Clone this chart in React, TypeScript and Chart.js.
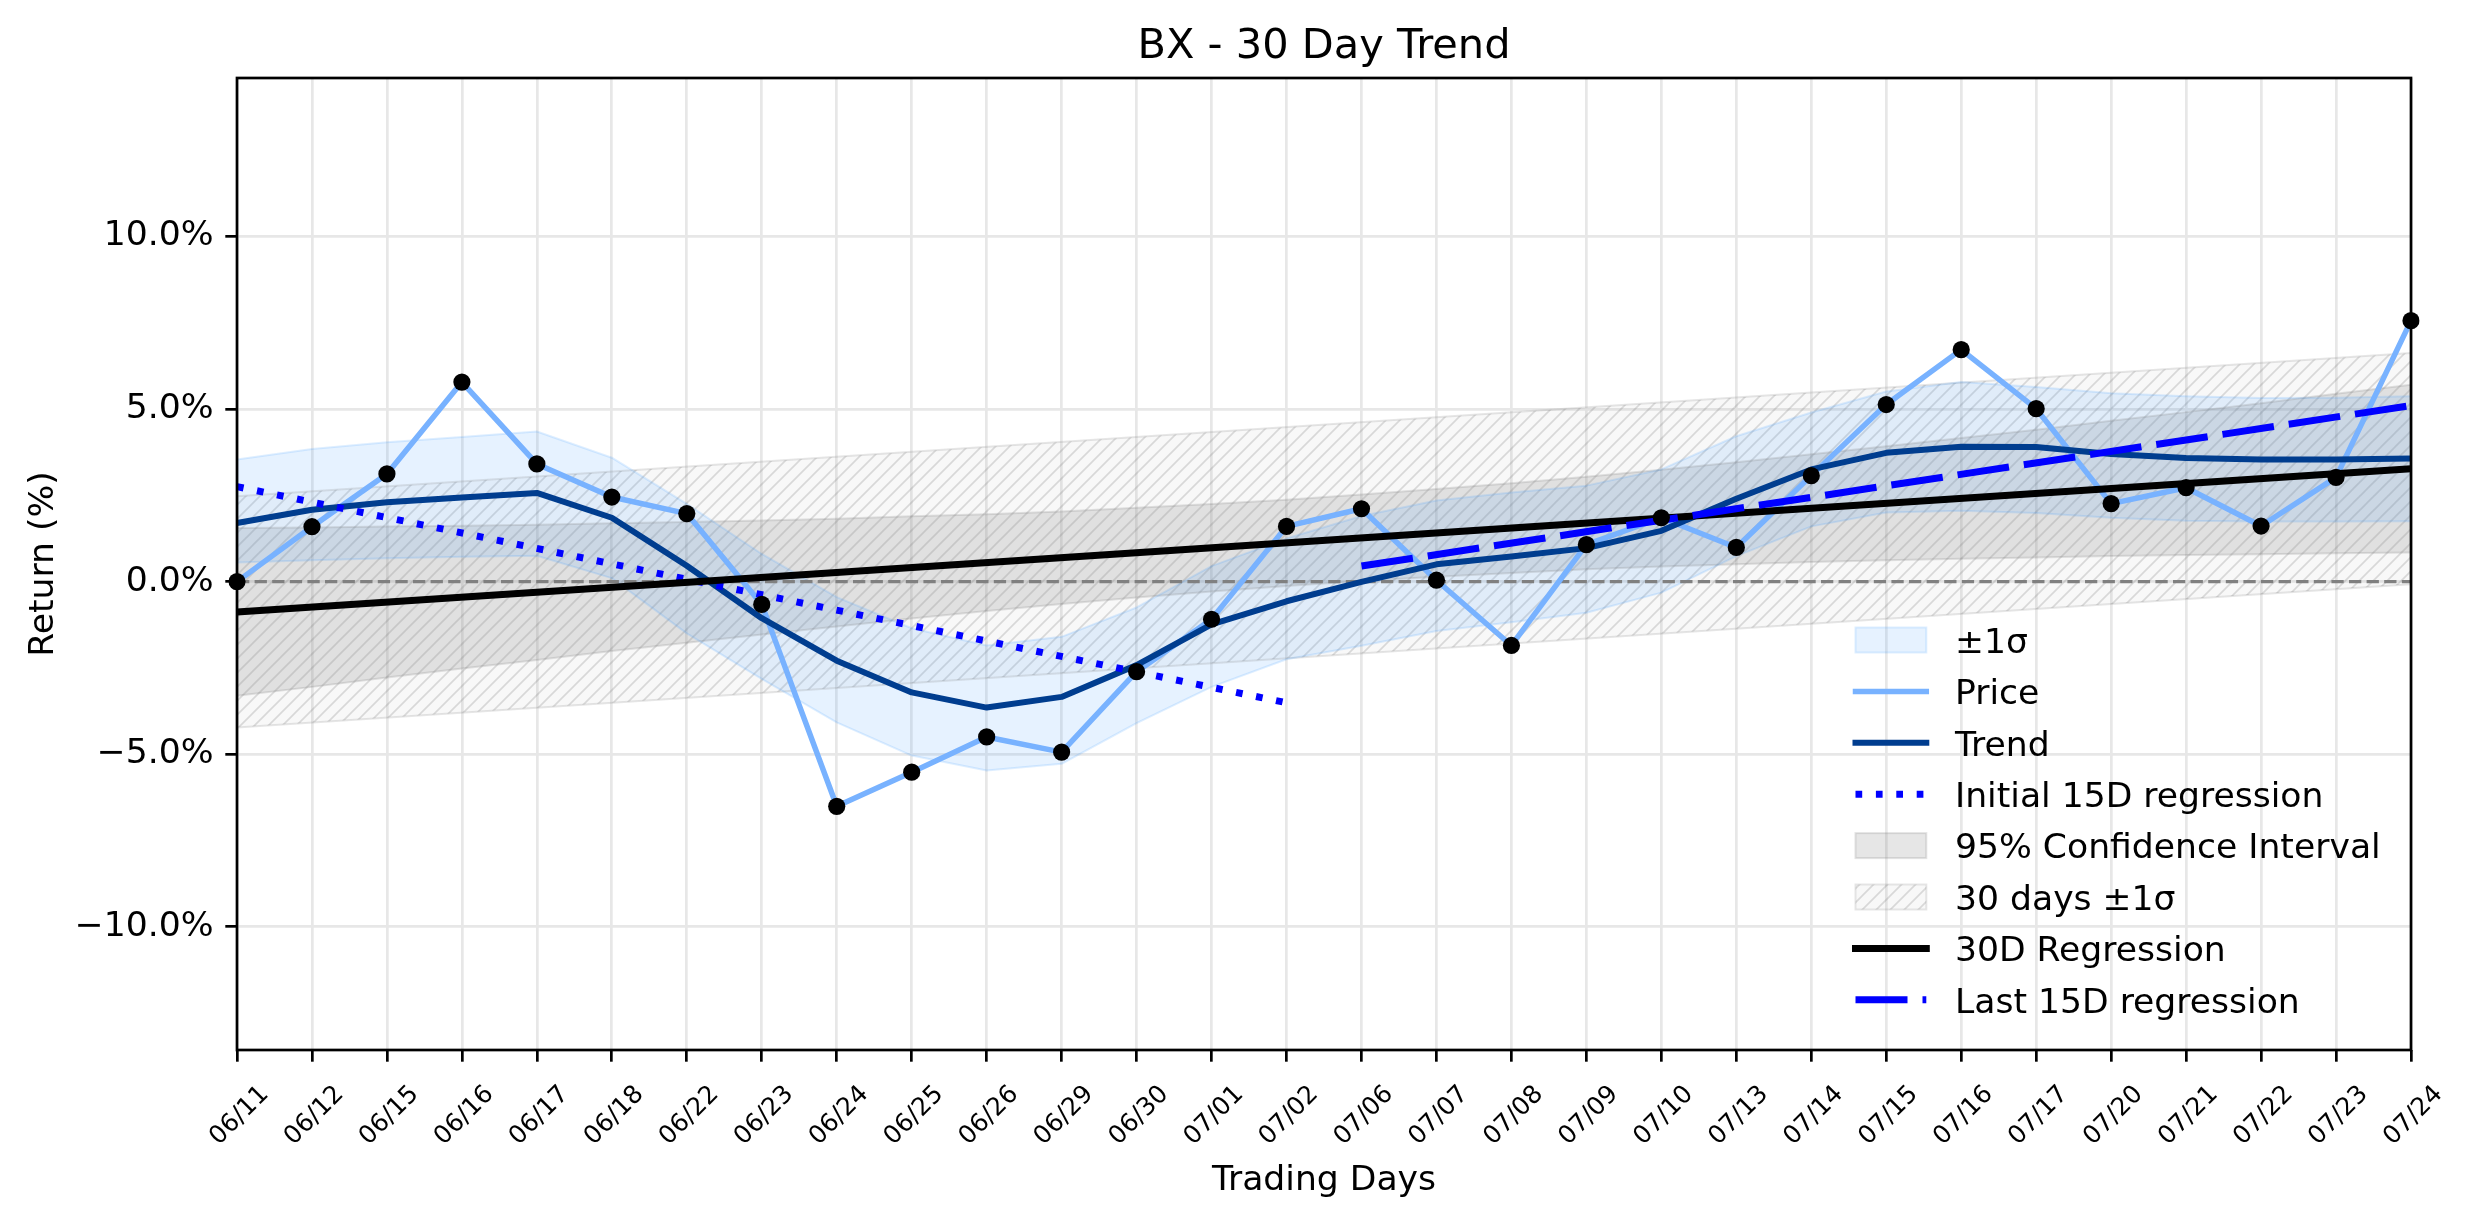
import React, { useEffect, useRef } from 'react';
import { Chart, registerables } from 'chart.js';

Chart.register(...registerables);

const FONT = '"DejaVu Sans", "Liberation Sans", sans-serif';

const TITLE = 'BX - 30 Day Trend';
const X_TITLE = 'Trading Days';
const Y_TITLE = 'Return (%)';

const DAYS = [
  '06/11', '06/12', '06/15', '06/16', '06/17', '06/18', '06/22', '06/23', '06/24', '06/25',
  '06/26', '06/29', '06/30', '07/01', '07/02', '07/06', '07/07', '07/08', '07/09', '07/10',
  '07/13', '07/14', '07/15', '07/16', '07/17', '07/20', '07/21', '07/22', '07/23', '07/24',
];

const PRICE = [
  0.0, 1.59, 3.12, 5.78, 3.41, 2.45, 1.97, -0.66, -6.51, -5.52,
  -4.5, -4.94, -2.61, -1.09, 1.6, 2.11, 0.04, -1.85, 1.07, 1.85,
  0.99, 3.07, 5.13, 6.72, 5.01, 2.26, 2.72, 1.61, 3.02, 7.56,
];

const TREND = [
  1.7, 2.08, 2.3, 2.44, 2.57, 1.85, 0.46, -1.06, -2.29, -3.21,
  -3.65, -3.34, -2.42, -1.24, -0.57, -0.01, 0.5, 0.73, 0.97, 1.47,
  2.4, 3.25, 3.73, 3.91, 3.9, 3.7, 3.58, 3.54, 3.54, 3.57,
];

const SIGMA_UPPER = [
  3.54, 3.84, 4.04, 4.19, 4.35, 3.59, 2.25, 0.8, -0.45, -1.35,
  -1.85, -1.6, -0.75, 0.45, 1.25, 1.9, 2.35, 2.58, 2.78, 3.25,
  4.21, 4.9, 5.51, 5.78, 5.64, 5.46, 5.37, 5.32, 5.33, 5.37,
];

const SIGMA_LOWER = [
  0.55, 0.62, 0.68, 0.72, 0.75, 0.1, -1.5, -2.82, -4.08, -5.04,
  -5.47, -5.28, -4.1, -3.05, -2.25, -1.86, -1.43, -1.18, -0.9, -0.32,
  0.74, 1.6, 2.0, 2.05, 1.99, 1.85, 1.76, 1.74, 1.74, 1.75,
];

const CI_UPPER = [
  1.55, 1.57, 1.6, 1.62, 1.65, 1.69, 1.73, 1.77, 1.82, 1.89,
  1.95, 2.03, 2.14, 2.25, 2.37, 2.52, 2.68, 2.85, 3.04, 3.24,
  3.46, 3.69, 3.92, 4.16, 4.4, 4.66, 4.91, 5.17, 5.44, 5.7,
];

const CI_LOWER = [
  -3.31, -3.05, -2.78, -2.52, -2.27, -2.01, -1.77, -1.53, -1.3, -1.07,
  -0.85, -0.65, -0.46, -0.29, -0.13, 0.02, 0.14, 0.25, 0.36, 0.44,
  0.5, 0.57, 0.62, 0.66, 0.7, 0.74, 0.77, 0.79, 0.82, 0.84,
];

// straight lines: values at their first and last day
const REG30 = [-0.88, 3.27];
const BAND30_UPPER = [2.47, 6.62];
const BAND30_LOWER = [-4.23, -0.08];
const INIT15 = [2.75, -3.51];
const LAST15 = [0.45, 5.1];
const ZERO = [0, 0];

const Y_TICKS = [-10, -5, 0, 5, 10];
const Y_MIN = -13.57;
const Y_MAX = 14.59;

const LEGEND_LABELS = [
  '±1σ', 'Price', 'Trend', 'Initial 15D regression', '95% Confidence Interval',
  '30 days ±1σ', '30D Regression', 'Last 15D regression',
];

const C_PRICE = '#78b2ff';
const C_TREND = '#003d8f';
const C_SIGMA = 'rgba(50,150,255,0.12)';
const C_SIGMA_EDGE = 'rgba(50,150,255,0.16)';
const C_CI = 'rgba(128,128,128,0.2)';
const C_CI_EDGE = 'rgba(128,128,128,0.22)';
const C_BAND_EDGE = 'rgba(128,128,128,0.2)';
const C_GRID = '#e7e7e7';

const W_PRICE = 5.5;
const W_TREND = 6;
const W_REG = 7;

function seg(a: number, b: number, vals: number[]) {
  return [
    { x: DAYS[a], y: vals[0] },
    { x: DAYS[b], y: vals[1] },
  ];
}

function makeHatch(): CanvasPattern | string {
  const s = 14;
  const c = document.createElement('canvas');
  c.width = s;
  c.height = s;
  const g = c.getContext('2d');
  if (!g) return 'rgba(128,128,128,0.07)';
  g.fillStyle = 'rgba(128,128,128,0.06)';
  g.fillRect(0, 0, s, s);
  g.strokeStyle = 'rgba(128,128,128,0.26)';
  g.lineWidth = 1.7;
  g.beginPath();
  g.moveTo(0, s);
  g.lineTo(s, 0);
  g.moveTo(-s / 2, s / 2);
  g.lineTo(s / 2, -s / 2);
  g.moveTo(s / 2, s * 1.5);
  g.lineTo(s * 1.5, s / 2);
  g.stroke();
  return g.createPattern(c, 'repeat') || 'rgba(128,128,128,0.07)';
}

function fmtPct(v: number) {
  const s = Math.abs(v).toFixed(1) + '%';
  return v < 0 ? '\u2212' + s : s;
}

export default function App() {
  const ref = useRef<HTMLCanvasElement>(null);

  useEffect(() => {
    const canvas = ref.current;
    if (!canvas) return;
    const hatch = makeHatch();

    // center the title over the axes (as in the reference)
    const titleOverAxes = {
      id: 'titleOverAxes',
      afterLayout(chart: any) {
        const t = chart.titleBlock;
        const a = chart.chartArea;
        if (t && a) {
          t.left = a.left;
          t.right = a.right;
          t.width = a.right - a.left;
        }
      },
    };

    const framePlugin = {
      id: 'frame',
      afterDatasetsDraw(chart: any) {
        const { ctx, chartArea: a } = chart;
        ctx.save();
        ctx.strokeStyle = '#000';
        ctx.lineWidth = 2.7;
        ctx.strokeRect(a.left, a.top, a.right - a.left, a.bottom - a.top);
        ctx.restore();
      },
    };

    const legendPlugin = {
      id: 'insideLegend',
      afterDraw(chart: any) {
        const ctx: CanvasRenderingContext2D = chart.ctx;
        const a = chart.chartArea;
        const hx0 = a.right - 555.5;
        const hx1 = a.right - 484.7;
        const tx = a.right - 456;
        const y0 = a.top + 562;
        const dy = 51.4;
        ctx.save();
        LEGEND_LABELS.forEach((label, i) => {
          const y = y0 + i * dy;
          ctx.save();
          if (i === 0 || i === 4 || i === 5) {
            const fill = i === 0 ? C_SIGMA : i === 4 ? C_CI : hatch;
            const edge = i === 0 ? C_SIGMA_EDGE : i === 4 ? C_CI_EDGE : C_BAND_EDGE;
            ctx.fillStyle = fill as any;
            ctx.fillRect(hx0, y - 12.5, hx1 - hx0, 25);
            ctx.strokeStyle = edge;
            ctx.lineWidth = 2;
            ctx.strokeRect(hx0, y - 12.5, hx1 - hx0, 25);
          } else {
            let color = '#000';
            let width = W_REG;
            let dash: number[] = [];
            let cap: CanvasLineCap = 'square';
            if (i === 1) { color = C_PRICE; width = W_PRICE; }
            if (i === 2) { color = C_TREND; width = W_TREND; }
            if (i === 3) { color = '#0000ff'; dash = [6.7, 13.7]; cap = 'butt'; }
            if (i === 7) { color = '#0000ff'; dash = [52, 15]; cap = 'butt'; }
            ctx.strokeStyle = color;
            ctx.lineWidth = width;
            ctx.lineCap = cap;
            ctx.setLineDash(dash);
            ctx.beginPath();
            ctx.moveTo(hx0, y);
            ctx.lineTo(hx1, y);
            ctx.stroke();
          }
          ctx.restore();
          ctx.fillStyle = '#000';
          ctx.font = `34.6px ${FONT}`;
          ctx.textAlign = 'left';
          ctx.textBaseline = 'alphabetic';
          ctx.fillText(label, tx, y + 12.7);
        });
        ctx.restore();
      },
    };

    const lineBase = {
      pointRadius: 0,
      pointHoverRadius: 0,
      tension: 0,
      fill: false,
      borderJoinStyle: 'round' as const,
      borderCapStyle: 'butt' as const,
    };

    const chart = new Chart(canvas, {
      type: 'line',
      data: {
        labels: DAYS,
        datasets: [
          { ...lineBase, label: 'dots', data: PRICE, showLine: false, pointRadius: 8.6, pointBackgroundColor: '#000', pointBorderWidth: 0, borderWidth: 0, order: 0 },
          { ...lineBase, label: LEGEND_LABELS[7], data: seg(15, 29, LAST15) as any, borderColor: '#0000ff', borderWidth: W_REG, borderDash: [52, 15], order: 1 },
          { ...lineBase, label: LEGEND_LABELS[6], data: seg(0, 29, REG30) as any, borderColor: '#000', borderWidth: W_REG, order: 2 },
          { ...lineBase, label: LEGEND_LABELS[3], data: seg(0, 14, INIT15) as any, borderColor: '#0000ff', borderWidth: W_REG, borderDash: [6.7, 13.7], order: 3 },
          { ...lineBase, label: LEGEND_LABELS[2], data: TREND, borderColor: C_TREND, borderWidth: W_TREND, order: 4 },
          { ...lineBase, label: LEGEND_LABELS[1], data: PRICE, borderColor: C_PRICE, borderWidth: W_PRICE, order: 5 },
          { ...lineBase, label: 'zero', data: seg(0, 29, ZERO) as any, borderColor: '#808080', borderWidth: 3.3, borderDash: [12.3, 5.3], order: 6 },
          { ...lineBase, label: LEGEND_LABELS[0], data: SIGMA_UPPER, borderColor: C_SIGMA_EDGE, borderWidth: 2, backgroundColor: C_SIGMA, fill: '+1', order: 10 },
          { ...lineBase, label: 'sigma lower', data: SIGMA_LOWER, borderColor: C_SIGMA_EDGE, borderWidth: 2, order: 11 },
          { ...lineBase, label: LEGEND_LABELS[4], data: CI_UPPER, borderColor: C_CI_EDGE, borderWidth: 2, backgroundColor: C_CI, fill: '+1', order: 12 },
          { ...lineBase, label: 'ci lower', data: CI_LOWER, borderColor: C_CI_EDGE, borderWidth: 2, order: 13 },
          { ...lineBase, label: LEGEND_LABELS[5], data: seg(0, 29, BAND30_UPPER) as any, borderColor: C_BAND_EDGE, borderWidth: 2, backgroundColor: hatch as any, fill: '+1', order: 14 },
          { ...lineBase, label: 'band lower', data: seg(0, 29, BAND30_LOWER) as any, borderColor: C_BAND_EDGE, borderWidth: 2, order: 15 },
        ],
      },
      options: {
        responsive: false,
        animation: false,
        events: [],
        devicePixelRatio: 1,
        layout: { padding: { left: 0, right: 63, top: 0, bottom: 0 } },
        plugins: {
          legend: { display: false },
          tooltip: { enabled: false },
          filler: { drawTime: 'beforeDatasetsDraw' },
          title: {
            display: true,
            text: TITLE,
            color: '#000',
            font: { family: FONT, size: 41.5, weight: 'normal' },
            padding: { top: 22.5, bottom: 5.7 },
          },
        },
        scales: {
          x: {
            type: 'category',
            offset: false,
            grid: { color: C_GRID, lineWidth: 2.7, tickColor: '#000', tickLength: 11.7, tickWidth: 2.7, drawTicks: true, offset: false },
            border: { display: false },
            ticks: {
              autoSkip: false,
              minRotation: 45,
              maxRotation: 45,
              color: '#000',
              font: { family: FONT, size: 25 },
              padding: 18,
              labelOffset: 28,
            },
            title: {
              display: true,
              text: X_TITLE,
              color: '#000',
              font: { family: FONT, size: 34.6 },
              padding: { top: 0, bottom: 22 },
            },
            afterFit: (s: any) => { s.height = 174; },
          },
          y: {
            type: 'linear',
            min: Y_MIN,
            max: Y_MAX,
            afterBuildTicks: (s: any) => { s.ticks = Y_TICKS.map((v) => ({ value: v })); },
            grid: { color: C_GRID, lineWidth: 2.7, tickColor: '#000', tickLength: 11.7, tickWidth: 2.7, drawTicks: true },
            border: { display: false },
            ticks: {
              color: '#000',
              font: { family: FONT, size: 34.6 },
              padding: 11.7,
              callback: (v: any) => fmtPct(Number(v)),
            },
            title: {
              display: true,
              text: Y_TITLE,
              color: '#000',
              font: { family: FONT, size: 34.6 },
              padding: { top: 23.5, bottom: 0 },
            },
            afterFit: (s: any) => { s.width = 237; },
          },
        },
      } as any,
      plugins: [titleOverAxes, framePlugin, legendPlugin],
    });

    return () => chart.destroy();
  }, []);

  return (
    <div style={{ position: 'fixed', left: 0, top: 0, width: 2474, height: 1224, background: '#fff' }}>
      <canvas ref={ref} width={2474} height={1224} style={{ display: 'block', width: 2474, height: 1224 }} />
    </div>
  );
}
